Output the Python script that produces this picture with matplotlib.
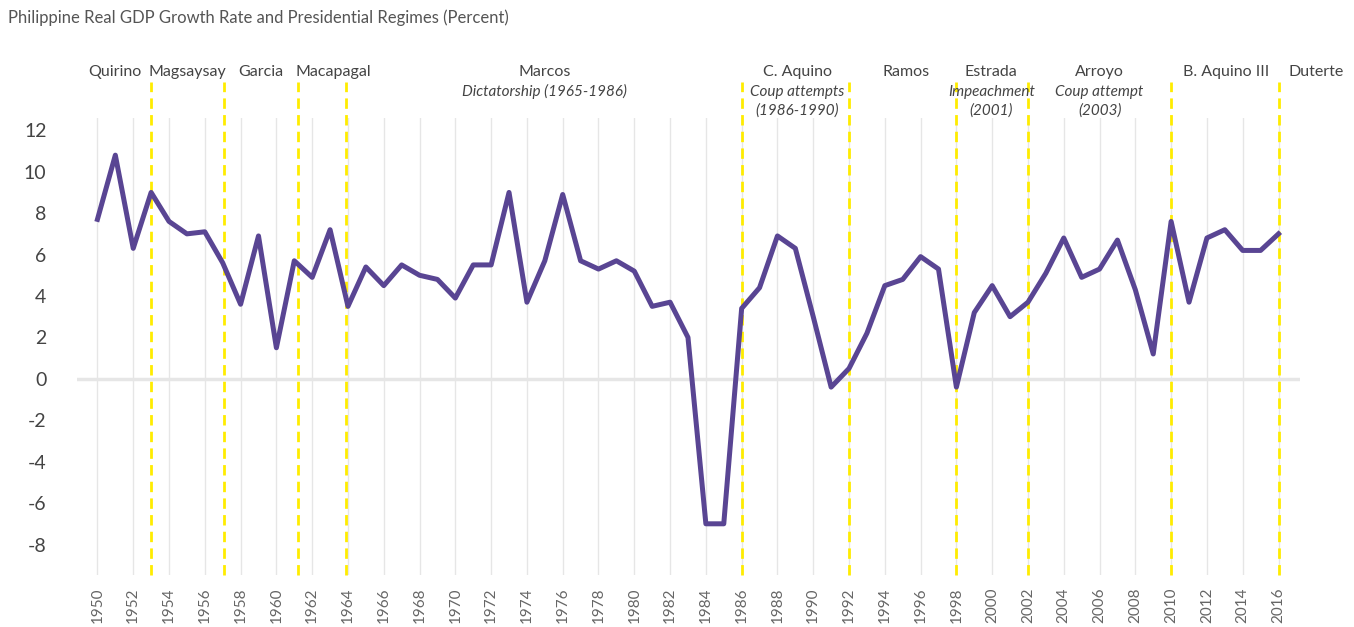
import matplotlib
matplotlib.use("Agg")
import matplotlib.pyplot as plt
from matplotlib.transforms import blended_transform_factory

plt.rcParams['font.family'] = ['Lato', 'DejaVu Sans']
plt.rcParams['lines.scale_dashes'] = False
plt.rcParams['axes.unicode_minus'] = False

# GDP growth data (percent)
years = list(range(1950, 2017))
growth = [7.7, 10.8, 6.3, 9.0, 7.6, 7.0, 7.1, 5.6, 3.6, 6.9,
          1.5, 5.7, 4.9, 7.2, 3.5, 5.4, 4.5, 5.5, 5.0, 4.8,
          3.9, 5.5, 5.5, 9.0, 3.7, 5.7, 8.9, 5.7, 5.3, 5.7,
          5.2, 3.5, 3.7, 2.0, -7.0, -7.0, 3.4, 4.4, 6.9, 6.3,
          3.0, -0.4, 0.5, 2.2, 4.5, 4.8, 5.9, 5.3, -0.4, 3.2,
          4.5, 3.0, 3.7, 5.1, 6.8, 4.9, 5.3, 6.7, 4.3, 1.2,
          7.6, 3.7, 6.8, 7.2, 6.2, 6.2, 7.0]

# regime boundaries (yellow dashed lines)
boundaries = [1953, 1957.05, 1961.2, 1963.9, 1986, 1992, 1998, 2002, 2010, 2016]

# president labels
presidents = ['Quirino', 'Magsaysay', 'Garcia', 'Macapagal', 'Marcos', 'C. Aquino',
              'Ramos', 'Estrada', 'Arroyo', 'B. Aquino III', 'Duterte']
label_x = [1951.0, 1955.0, 1959.15, 1963.2, 1975.0, 1989.1,
           1995.2, 1999.95, 2006.0, 2013.1, 2018.1]
notes = {'Marcos': ['Dictatorship (1965-1986)'],
         'C. Aquino': ['Coup attempts', '(1986-1990)'],
         'Estrada': ['Impeachment', '(2001)'],
         'Arroyo': ['Coup attempt', '(2003)']}

fig = plt.figure(figsize=(13.54, 6.27), dpi=100)
ax = fig.add_axes([0.0569, 0.083, 0.9032, 0.729])

ax.set_xlim(1948.86, 2017.2)
ax.set_ylim(-9.47, 12.6)

# vertical grid every two years
for yr in range(1950, 2017, 2):
    ax.axvline(yr, color='#e6e6e6', lw=1.0, zorder=0)
ax.axhline(0, color='#e6e6e6', lw=2.5, zorder=1)

for b in boundaries:
    ax.axvline(b, ymin=0, ymax=1.079, color='#ffec00', lw=2.0,
               dashes=(7.5, 4.5), clip_on=False, zorder=2)

ax.plot(years, growth, color='#594593', lw=3.6, solid_joinstyle='round', zorder=3)

for s in ax.spines.values():
    s.set_visible(False)
ax.set_yticks(range(-8, 13, 2))
ax.set_xticks(range(1950, 2017, 2))
ax.tick_params(axis='y', length=0, pad=22, labelsize=14, labelcolor='#444444')
ax.tick_params(axis='x', length=0, pad=9, labelsize=11, labelcolor='#666666',
               labelrotation=90)

tr = blended_transform_factory(ax.transData, fig.transFigure)
for name, x in zip(presidents, label_x):
    ax.text(x, 0.885, name, transform=tr, ha='center', va='center',
            fontsize=11.5, color='#444444', clip_on=False)
    for i, line in enumerate(notes.get(name, [])):
        ax.text(x, 0.854 - i * 0.03, line, transform=tr, ha='center', va='center',
                fontsize=11, style='italic', color='#444444', clip_on=False)

fig.text(0.006, 0.971, 'Philippine Real GDP Growth Rate and Presidential Regimes (Percent)',
         ha='left', va='center', fontsize=12, color='#555555')

fig.savefig('out.png', dpi=100)
